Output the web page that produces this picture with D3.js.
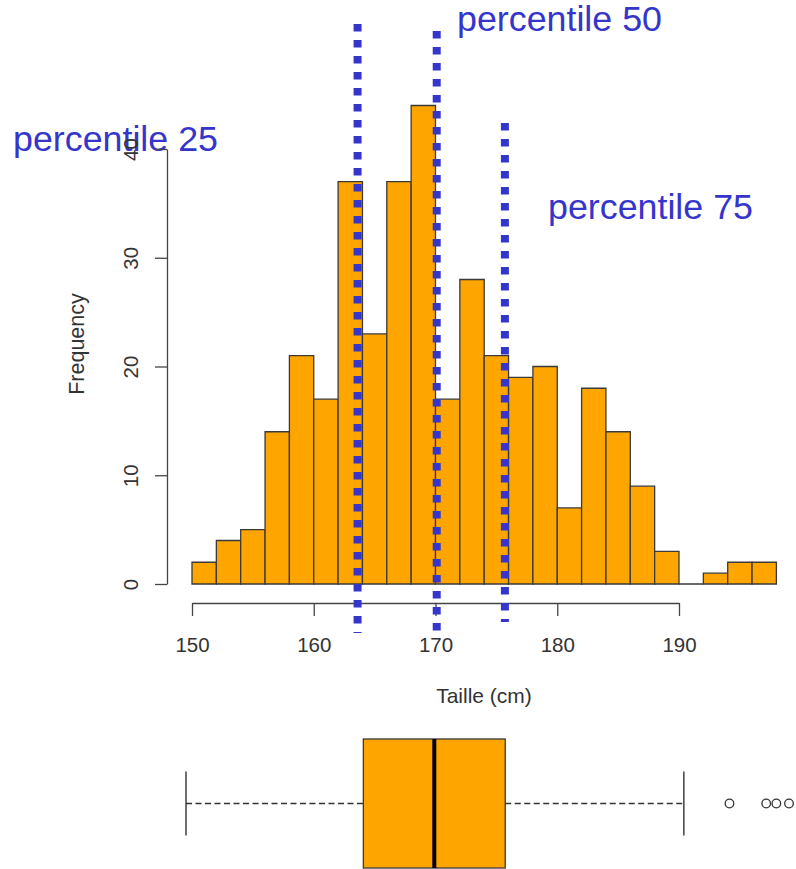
<!DOCTYPE html>
<html>
<head>
<meta charset="utf-8">
<script src="https://cdn.jsdelivr.net/npm/d3@7"></script>
<style>
  html, body { margin: 0; padding: 0; background: #fff; }
  svg { display: block; font-family: "Liberation Sans", Arial, sans-serif; }
</style>
</head>
<body>
<svg id="chart" width="796" height="869"></svg>
<script>
// Histogram of heights: bin edges (cm) and counts
const binStarts = [150,152,154,156,158,160,162,164,166,168,170,172,174,176,178,180,182,184,186,188,190,192,194,196];
const binWidth = 2;
const counts    = [2,4,5,14,21,17,37,23,37,44,17,28,21,19,20,7,18,14,9,3,0,1,2,2];

// Axis ticks
const xTicks = [150,160,170,180,190];
const yTicks = [0,10,20,30,40];

// Percentile markers
const percentileNames  = ["percentile 25","percentile 50","percentile 75"];
const percentileValues = [163.6, 170.1, 175.7];

// Box plot summary
const boxWhiskerLow  = 150.2;
const boxQ1          = 164.2;
const boxMedian      = 169.8;
const boxQ3          = 175.4;
const boxWhiskerHigh = 189.5;
const boxOutliers    = [193.1, 196.0, 196.8, 197.8];

const ORANGE = "#FFA500";
const BLUE = "#3535CC";
const INK = "#333";

const svg = d3.select("#chart");

// ---- scales ----
const x = d3.scaleLinear().domain([150, 190]).range([192, 679]);
const y = d3.scaleLinear().domain([0, 40]).range([584, 149]);

// ---- percentile labels (behind the plot) ----
const labelPos = [
  {x: 13,  y: 151},
  {x: 457, y: 31},
  {x: 548, y: 219}
];
svg.append("g").selectAll("text")
  .data(percentileNames)
  .join("text")
  .attr("x", (d, i) => labelPos[i].x)
  .attr("y", (d, i) => labelPos[i].y)
  .attr("fill", BLUE)
  .style("font-size", "35.8px")
  .text(d => d);

// ---- histogram bars ----
const bars = svg.append("g");
bars.selectAll("path")
  .data(binStarts.map((s, i) => ({s, c: counts[i]})))
  .join("path")
  .attr("d", d => {
    const x0 = x(d.s), x1 = x(d.s + binWidth), y0 = y(0), y1 = y(d.c);
    return `M${x0},${y0}V${y1}H${x1}V${y0}Z`;
  })
  .attr("fill", ORANGE)
  .attr("stroke", "#3a3a3a")
  .attr("stroke-width", 1.3);

// ---- axes ----
const yAxis = svg.append("g")
  .attr("transform", `translate(167,0)`)
  .call(d3.axisLeft(y).tickValues(yTicks).tickSize(12).tickSizeOuter(0));
yAxis.selectAll("text")
  .attr("x", 0).attr("y", -29).attr("dy", 0)
  .attr("transform", "rotate(-90)")
  .style("text-anchor", "middle");

const xAxis = svg.append("g")
  .attr("transform", `translate(0,603)`)
  .call(d3.axisBottom(x).tickValues(xTicks).tickSize(13).tickSizeOuter(0));
xAxis.selectAll("text").attr("y", 49).attr("dy", 0);

[yAxis, xAxis].forEach(a => {
  a.select(".domain").attr("stroke", "#444").attr("stroke-width", 1.3);
  a.selectAll(".tick line").attr("stroke", "#444").attr("stroke-width", 1.3);
  a.selectAll("text").attr("fill", INK).style("font-size", "20.5px")
    .style("font-family", "\"Liberation Sans\", Arial, sans-serif");
});

// axis titles
svg.append("text")
  .attr("x", 484).attr("y", 703)
  .attr("text-anchor", "middle")
  .attr("fill", INK).style("font-size", "21px")
  .text("Taille (cm)");
svg.append("text")
  .attr("transform", "translate(84,344) rotate(-90)")
  .attr("text-anchor", "middle")
  .attr("fill", INK).style("font-size", "21.5px")
  .text("Frequency");

// ---- percentile lines ----
const lineSpan = [
  {top: 24, bottom: 633},
  {top: 31, bottom: 632},
  {top: 123, bottom: 622}
];
svg.append("g").selectAll("line")
  .data(percentileValues)
  .join("line")
  .attr("x1", d => x(d)).attr("x2", d => x(d))
  .attr("y1", (d, i) => lineSpan[i].top)
  .attr("y2", (d, i) => lineSpan[i].bottom)
  .attr("stroke", BLUE)
  .attr("stroke-width", 8)
  .attr("stroke-dasharray", "7.5,8.5");

// ---- box plot ----
const boxVals = [boxWhiskerLow, boxQ1, boxMedian, boxQ3, boxWhiskerHigh, ...boxOutliers];
const bx = d3.scaleLinear().domain(d3.extent(boxVals)).range([186, 789]);
const cy = 803.5, halfBox = 64.5, halfCap = 32;

const box = svg.append("g");
// dashed whiskers
box.selectAll("line.whisker")
  .data([[boxWhiskerLow, boxQ1], [boxQ3, boxWhiskerHigh]])
  .join("line").attr("class", "whisker")
  .attr("x1", d => bx(d[0])).attr("x2", d => bx(d[1]))
  .attr("y1", cy).attr("y2", cy)
  .attr("stroke", INK).attr("stroke-width", 1.5)
  .attr("stroke-dasharray", "6,3.5");
// staples
box.selectAll("line.cap")
  .data([boxWhiskerLow, boxWhiskerHigh])
  .join("line").attr("class", "cap")
  .attr("x1", d => bx(d)).attr("x2", d => bx(d))
  .attr("y1", cy - halfCap).attr("y2", cy + halfCap)
  .attr("stroke", INK).attr("stroke-width", 1.4);
// box
box.append("rect")
  .attr("x", bx(boxQ1)).attr("y", cy - halfBox)
  .attr("width", bx(boxQ3) - bx(boxQ1)).attr("height", 2 * halfBox)
  .attr("fill", ORANGE).attr("stroke", "#3a3a3a").attr("stroke-width", 1.3);
// median
box.append("line")
  .attr("x1", bx(boxMedian)).attr("x2", bx(boxMedian))
  .attr("y1", cy - halfBox).attr("y2", cy + halfBox)
  .attr("stroke", "#000").attr("stroke-width", 4);
// outliers
box.selectAll("circle")
  .data(boxOutliers)
  .join("circle")
  .attr("cx", d => bx(d)).attr("cy", cy).attr("r", 4.3)
  .attr("fill", "none").attr("stroke", INK).attr("stroke-width", 1.3);
</script>
</body>
</html>
